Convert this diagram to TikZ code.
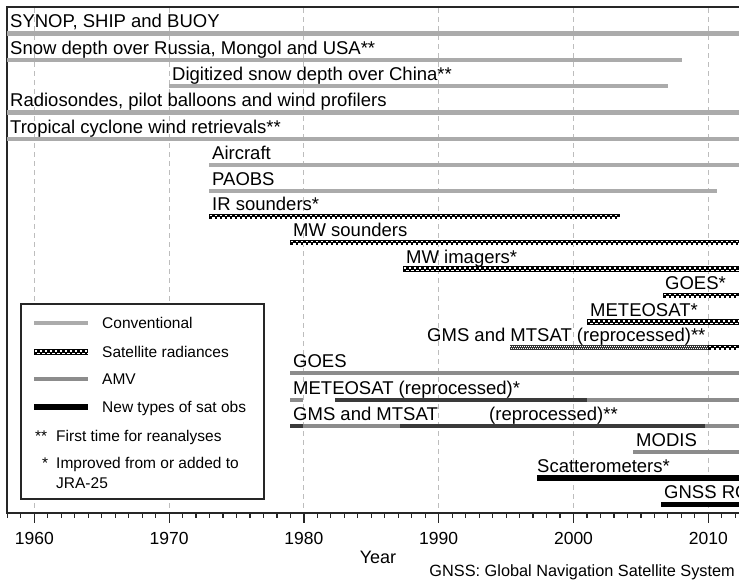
\documentclass[tikz,border=0pt]{standalone}
\usepackage{fontspec}
\setmainfont{Liberation Sans}
\definecolor{convgray}{HTML}{ABABAB}
\definecolor{amvgray}{HTML}{8C8C8C}
\definecolor{darkseg}{HTML}{3A3A3A}
\definecolor{gridgray}{HTML}{BDBDBD}
\newcommand\lblfont{\fontsize{18.5}{22}\selectfont}
\newcommand\legfont{\fontsize{15.5}{18}\selectfont}
\newcommand\tickfont{\fontsize{17.5}{20}\selectfont}
\newcommand\satbar[3]{%
  \draw[black,line width=5.2] (#1,#3)--(#2,#3);
  \draw[white,line width=1.5,dash pattern=on 2.5 off 2.5] (#1+0.8,#3-1.25)--(#2,#3-1.25);
  \draw[white,line width=1.5,dash pattern=on 2.5 off 2.5,dash phase=2.5] (#1+0.8,#3+1.25)--(#2,#3+1.25);}
\newcommand\finebar[3]{%
  \draw[black!80,line width=4.6] (#1,#3)--(#2,#3);
  \draw[white,line width=1,dash pattern=on 1 off 1] (#1,#3-1)--(#2,#3-1);
  \draw[white,line width=1,dash pattern=on 1 off 1,dash phase=1] (#1,#3+1)--(#2,#3+1);}
\begin{document}
\begin{tikzpicture}[x=1pt,y=-1pt,
  conv/.style={line width=4.6,color=convgray},
  amv/.style={line width=4.6,color=amvgray},
  darkbar/.style={line width=4.6,color=darkseg},
  newobs/.style={line width=5.2,color=black},
  lbl/.style={anchor=base west,inner sep=0,font=\lblfont},
  leg/.style={anchor=base west,inner sep=0,font=\legfont},
  gridln/.style={gridgray,line width=1,dash pattern=on 5 off 4},
  frame/.style={line width=1.5,color=black!85}]
\useasboundingbox (0,0) rectangle (739,579);
% grid lines
\foreach \xx in {34.3,169.1,303.9,438.7,573.5,708.3}
  \draw[gridln] (\xx,8) -- (\xx,512);
% frame
\coordinate (tl) at (7,7);
\coordinate (tr) at (739,7);
\coordinate (bl) at (7,513);
\coordinate (br) at (739,513);
\draw[frame] (tr) -- (tl) -- (bl) -- (br);
% ticks
\foreach \k in {-2,...,52}
  \draw[frame,line width=1.2] ({34.3+\k*13.48},513) -- ({34.3+\k*13.48},518);
\foreach \k/\yr in {0/1960,1/1970,2/1980,3/1990,4/2000,5/2010}{
  \draw[frame,line width=1.2] ({34.3+\k*134.8},513) -- ({34.3+\k*134.8},523);
  \node[font=\tickfont,inner sep=0,anchor=base] (t\yr) at ({34.3+\k*134.8},544) {\yr};
}
\node[font=\fontsize{18}{21}\selectfont,inner sep=0,anchor=base] (year) at (378,563) {Year};
\node[font=\fontsize{16.3}{19}\selectfont,inner sep=0,anchor=base east] (gnss) at (735,576) {GNSS: Global Navigation Satellite System};
% conventional bars
\draw[conv] (7,33.5) -- (739,33.5);
\node[lbl] (synop) at (10,27.5) {SYNOP, SHIP and BUOY};
\draw[conv] (7,60) -- (682,60);
\node[lbl] (snow) at (10,54) {Snow depth over Russia, Mongol and USA**};
\draw[conv] (169,86) -- (668,86);
\node[lbl] (dig) at (172,80) {Digitized snow depth over China**};
\draw[conv] (7,112.5) -- (739,112.5);
\node[lbl] (rad) at (10,106.5) {Radiosondes, pilot balloons and wind profilers};
\draw[conv] (7,139) -- (739,139);
\node[lbl] (tc) at (10,133) {Tropical cyclone wind retrievals**};
\draw[conv] (209,165) -- (739,165);
\node[lbl] (air) at (212,159) {Aircraft};
\draw[conv] (209,191) -- (717,191);
\node[lbl] (paobs) at (212,185) {PAOBS};
% satellite radiances
\satbar{209}{620}{216.5}
\node[lbl] (ir) at (212,210.5) {IR sounders*};
\satbar{290}{739}{242.5}
\node[lbl] (mws) at (293,236.5) {MW sounders};
\satbar{403}{739}{269}
\node[lbl] (mwi) at (406,263) {MW imagers*};
\satbar{663}{739}{295.5}
\node[lbl] (goesr) at (665,289.5) {GOES*};
\satbar{587}{739}{322}
\node[lbl] (metr) at (590,316) {METEOSAT*};
\finebar{510}{708}{347.5}
\satbar{708}{739}{347.5}
\node[lbl] (gmsr) at (427,341.5) {GMS and MTSAT (reprocessed)**};
% AMV
\draw[amv] (290,373) -- (739,373);
\node[lbl] (goes) at (293,367) {GOES};
\draw[amv] (290,400) -- (303,400);
\draw[darkbar] (335,400) -- (587,400);
\draw[amv] (587,400) -- (739,400);
\node[lbl] (met) at (293,394) {METEOSAT (reprocessed)*};
\draw[darkbar] (290,426) -- (303,426);
\draw[amv] (303,426) -- (400,426);
\draw[darkbar] (400,426) -- (705,426);
\draw[amv] (705,426) -- (739,426);
\node[lbl] (gms) at (293,420) {GMS and MTSAT};
\node[lbl] (gmsrep) at (489,420) {(reprocessed)**};
\draw[amv] (633,452) -- (739,452);
\node[lbl] (modis) at (636,446) {MODIS};
% new types
\draw[newobs] (537,478) -- (739,478);
\node[lbl] (scat) at (537,472) {Scatterometers*};
\draw[newobs] (661,504.5) -- (739,504.5);
\node[lbl] (gnssro) at (664,498.5) {GNSS RO};
% legend
\draw[frame,fill=white] (21,304) rectangle (264,499);
\draw[conv] (34,323) -- (88,323);
\node[leg] (l1) at (102,328.5) {Conventional};
\satbar{34}{88}{352}
\node[leg] (l2) at (102,357.5) {Satellite radiances};
\draw[amv] (34,379) -- (88,379);
\node[leg] (l3) at (102,384.5) {AMV};
\draw[newobs] (34,407) -- (88,407);
\node[leg] (l4) at (102,412.5) {New types of sat obs};
\node[leg] (s2) at (35,441.5) {**};
\node[leg] (l5) at (56,441.5) {First time for reanalyses};
\node[leg] (s1) at (42,468.5) {*};
\node[leg] (l6) at (56,468.5) {Improved from or added to};
\node[leg] (l7) at (56,488.5) {JRA-25};
\end{tikzpicture}
\end{document}
